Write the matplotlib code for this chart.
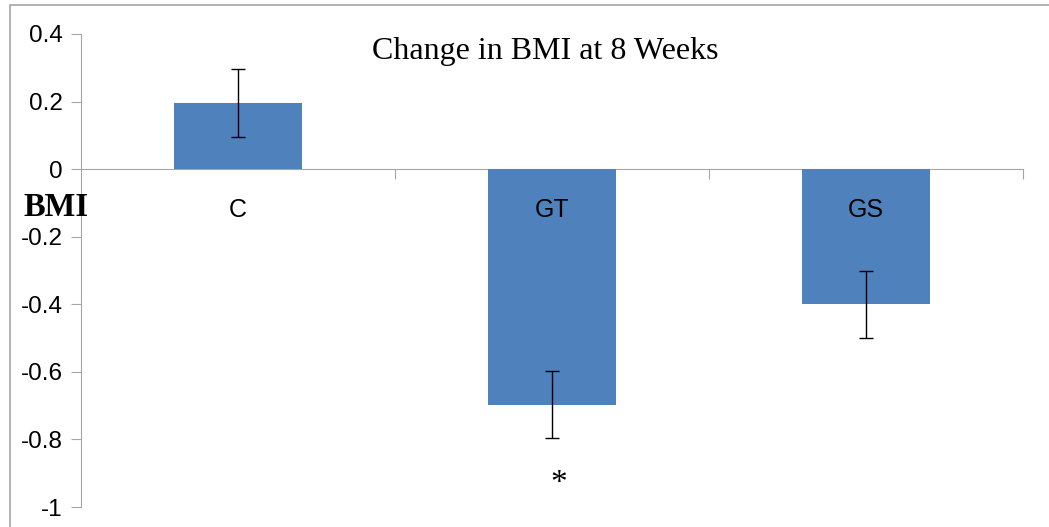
import matplotlib.pyplot as plt
from matplotlib.patches import Rectangle

groups = ["C", "GT", "GS"]
change = [0.195, -0.697, -0.4]
err = [0.1, 0.1, 0.1]
yticks = [0.4, 0.2, 0, -0.2, -0.4, -0.6, -0.8, -1]
ytick_labels = ["0.4", "0.2", "0", "-0.2", "-0.4", "-0.6", "-0.8", "-1"]

fig = plt.figure(figsize=(10.49, 5.27), dpi=100)
ax = fig.add_axes([81 / 1049, 20 / 527, (1023 - 81) / 1049, 473 / 527])

x = list(range(len(groups)))
ax.bar(x, change, width=0.405, color="#4F81BD", zorder=2)
ax.errorbar(x, change, yerr=err, fmt="none", ecolor="black", elinewidth=1.0,
            capsize=5, capthick=1.0, zorder=3)

ax.set_xlim(-0.5, 2.5)
ax.set_ylim(-1, 0.4)
ax.set_yticks(yticks)
ax.set_yticklabels(ytick_labels, fontname="Liberation Sans", fontsize=17.5)
ax.set_xticks([0.5, 1.5, 2.5])
ax.set_xticklabels([])

grey = "#A6A6A6"
for s in ["top", "right"]:
    ax.spines[s].set_visible(False)
ax.spines["bottom"].set_position(("data", 0))
ax.spines["bottom"].set_color(grey)
ax.spines["left"].set_color(grey)
ax.spines["bottom"].set_zorder(1)
ax.tick_params(axis="y", direction="out", length=7, color=grey, pad=6)
ax.tick_params(axis="x", direction="out", length=7, color=grey)

for xi, g in zip(x, groups):
    ax.text(xi, -0.12, g, ha="center", va="center", fontname="Liberation Sans",
            fontsize=18, zorder=4)

ax.text(1.02, -0.93, "*", ha="center", va="center", fontname="Liberation Serif",
        fontsize=24)

fig.text(545 / 1049, 1 - 51 / 527, "Change in BMI at 8 Weeks", ha="center",
         va="center", fontname="Liberation Serif", fontsize=23)
fig.text(24 / 1049, 1 - 207 / 527, "BMI", ha="left", va="center",
         fontname="Liberation Serif", fontweight="bold", fontsize=23.5)

fig.patches.append(Rectangle((10 / 1049, -0.1), 1.2, 1 - 5 / 527 + 0.1,
                             transform=fig.transFigure, fill=False,
                             edgecolor=grey, linewidth=1.2))

fig.savefig("out.png", dpi=100)
